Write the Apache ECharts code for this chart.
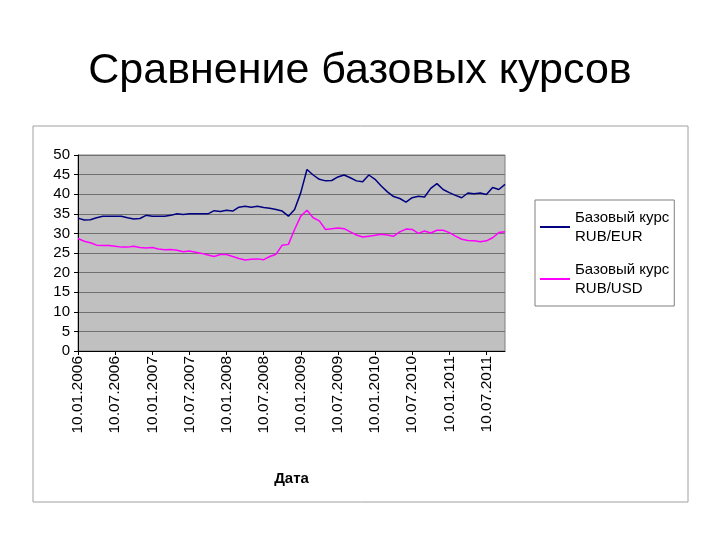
<!DOCTYPE html>
<html>
<head>
<meta charset="utf-8">
<script src="https://cdn.jsdelivr.net/npm/echarts@6/dist/echarts.min.js"></script>
<style>
  body { margin: 0; background: #fff; }
  #main { width: 720px; height: 540px; }
</style>
</head>
<body>
<div id="main"></div>
<script>
// monthly points, 10.01.2006 .. 10.10.2011
var months = [];
for (var i = 0; i < 70; i++) {
    var y = 2006 + Math.floor(i / 12), m = i % 12 + 1;
    months.push('10.' + (m < 10 ? '0' + m : m) + '.' + y);
}
var seriesNames = ['Базовый курс\nRUB/EUR', 'Базовый курс\nRUB/USD'];
var eurValues = [33.9, 33.4, 33.5, 34, 34.4, 34.4, 34.4, 34.4, 34, 33.7, 33.8, 34.6,
    34.4, 34.4, 34.4, 34.6, 35, 34.8, 35, 35, 35, 35, 35.8, 35.6,
    35.9, 35.7, 36.7, 36.9, 36.7, 36.9, 36.6, 36.4, 36.1, 35.7, 34.4, 36.1,
    40.4, 46.3, 44.9, 43.8, 43.4, 43.5, 44.4, 44.9, 44.2, 43.4, 43.2, 44.9,
    43.8, 42.1, 40.6, 39.4, 38.9, 38, 39.1, 39.5, 39.3, 41.5, 42.7, 41.2,
    40.4, 39.7, 39.1, 40.3, 40.1, 40.3, 39.9, 41.7, 41.2, 42.5];
var usdValues = [28.7, 28, 27.6, 27, 26.9, 26.9, 26.7, 26.5, 26.5, 26.7, 26.4, 26.3,
    26.4, 26, 25.8, 25.9, 25.7, 25.3, 25.5, 25.2, 24.9, 24.5, 24.1, 24.6,
    24.6, 24.1, 23.6, 23.2, 23.4, 23.5, 23.3, 24.1, 24.7, 27, 27.2, 31,
    34.4, 35.9, 34, 33.2, 31, 31.2, 31.4, 31.2, 30.4, 29.6, 29.1, 29.3,
    29.5, 29.8, 29.6, 29.3, 30.4, 31.1, 31, 30, 30.6, 30.1, 30.8, 30.8,
    30.2, 29.3, 28.5, 28.2, 28.1, 27.9, 28.1, 28.9, 30.2, 30.4];

var myChart = echarts.init(document.getElementById('main'));
var option = {
    animation: false,
    textStyle: { fontFamily: 'Liberation Sans, Arial, sans-serif' },
    title: {
        text: 'Сравнение базовых курсов',
        left: 'center',
        top: 45,
        textStyle: { fontSize: 43, fontWeight: 'normal', color: '#000' }
    },
    graphic: [{
        type: 'rect',
        shape: { x: 33, y: 126, width: 655, height: 376 },
        style: { fill: '#fff', stroke: '#a0a0a0', lineWidth: 1 },
        z: -10
    }],
    legend: {
        orient: 'vertical',
        left: 535,
        top: 200,
        width: 150,
        padding: [8, 5, 8, 5],
        itemGap: 14,
        itemWidth: 30,
        itemHeight: 2,
        backgroundColor: '#fff',
        borderColor: '#808080',
        borderWidth: 1,
        icon: 'rect',
        textStyle: { fontSize: 15, color: '#000', lineHeight: 19 },
        data: seriesNames
    },
    grid: { left: 78, top: 155, width: 427, height: 196, backgroundColor: '#c0c0c0', show: true, borderColor: '#808080', borderWidth: 1 },
    xAxis: {
        type: 'category',
        data: months,
        boundaryGap: false,
        name: 'Дата',
        nameLocation: 'middle',
        nameGap: 120,
        nameTextStyle: { fontSize: 15, fontWeight: 'bold', color: '#000' },
        axisLine: { lineStyle: { color: '#000' } },
        axisTick: { interval: 5, inside: false, length: 4, lineStyle: { color: '#000' } },
        axisLabel: { interval: 5, rotate: 90, fontSize: 15.5, color: '#000', margin: 5 },
        splitLine: { show: false }
    },
    yAxis: {
        type: 'value',
        min: 0, max: 50, interval: 5,
        axisLine: { show: true, lineStyle: { color: '#000' } },
        axisTick: { show: true, length: 4, lineStyle: { color: '#000' } },
        axisLabel: { fontSize: 15, color: '#000', margin: 8 },
        splitLine: { lineStyle: { color: '#707070', width: 1 } }
    },
    series: [{
        name: seriesNames[0],
        type: 'line',
        data: eurValues,
        showSymbol: false,
        lineStyle: { color: '#000080', width: 1.5 },
        itemStyle: { color: '#000080' }
    }, {
        name: seriesNames[1],
        type: 'line',
        data: usdValues,
        showSymbol: false,
        lineStyle: { color: '#ff00ff', width: 1.5 },
        itemStyle: { color: '#ff00ff' }
    }]
};
myChart.setOption(option);
</script>
</body>
</html>
